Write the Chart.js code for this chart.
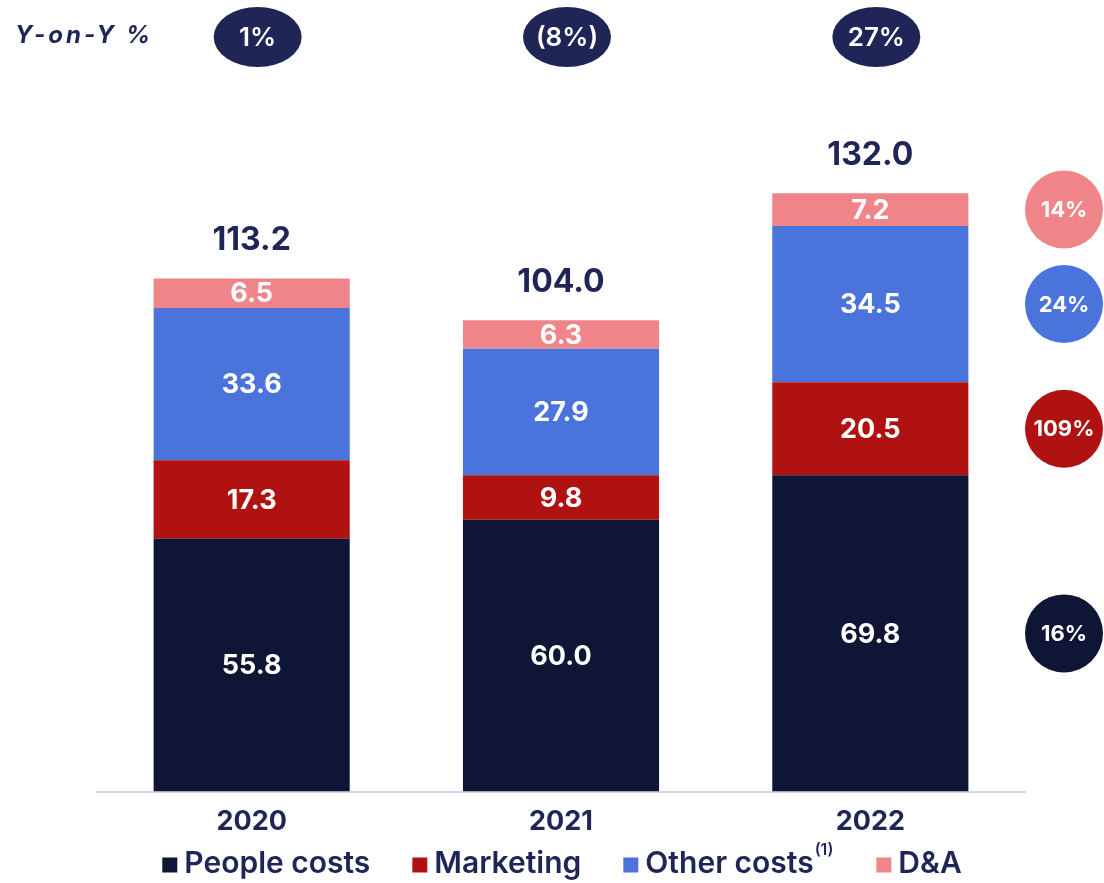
<!DOCTYPE html>
<html>
<head>
<meta charset="utf-8">
<script src="https://cdn.jsdelivr.net/npm/chart.js@4.4.0/dist/chart.umd.min.js"></script>
<style>
  html, body { margin: 0; padding: 0; background: #fff; }
  #wrap { width: 1104px; height: 883px; position: relative; }
</style>
</head>
<body>
<div id="wrap"><canvas id="grafico"></canvas></div>
<script>
// dados do grafico
const anos = ['2020', '2021', '2022'];
const peopleCosts = [55.8, 60.0, 69.8];
const marketing = [17.3, 9.8, 20.5];
const otherCosts = [33.6, 27.9, 34.5];
const dna = [6.5, 6.3, 7.2];
const totais = ['113.2', '104.0', '132.0'];
const yoyTotal = ['1%', '(8%)', '27%'];
const yoySerie = ['16%', '109%', '24%', '14%']; // people, marketing, other, D&A
const nomesSeries = ['People costs', 'Marketing', 'Other costs', 'D&A'];

const NAVY = '#1f2657';
const FONTE = 'Inter, "Open Sans", sans-serif';
const cores = ['#0e1535', '#b01212', '#4a74db', '#ef8588'];

const plugin_extras = {
    id: 'extras',
    afterDatasetsDraw(chart) {
        const ctx = chart.ctx;
        const meta0 = chart.getDatasetMeta(0);
        ctx.save();
        ctx.textAlign = 'center';
        ctx.textBaseline = 'middle';

        // valores dentro das barras
        chart.data.datasets.forEach((ds, i) => {
            const meta = chart.getDatasetMeta(i);
            meta.data.forEach((bar, j) => {
                const yMid = (bar.y + bar.base) / 2;
                ctx.fillStyle = '#ffffff';
                ctx.font = '700 27px ' + FONTE;
                ctx.fillText(ds.data[j].toFixed(1), bar.x, yMid + 1);
            });
        });

        // totais acima das barras
        const topMeta = chart.getDatasetMeta(3);
        topMeta.data.forEach((bar, j) => {
            ctx.fillStyle = NAVY;
            ctx.font = '700 32px ' + FONTE;
            ctx.fillText(totais[j], bar.x, bar.y - 38);
        });

        // Y-on-Y no topo
        ctx.textAlign = 'left';
        ctx.font = 'italic 700 24px ' + FONTE;
        ctx.fillStyle = NAVY;
        if (ctx.letterSpacing !== undefined) ctx.letterSpacing = '3px';
        ctx.fillText('Y-on-Y %', 15, 36);
        if (ctx.letterSpacing !== undefined) ctx.letterSpacing = '0px';
        ctx.textAlign = 'center';
        meta0.data.forEach((bar, j) => {
            const cx = bar.x + 6;
            ctx.beginPath();
            ctx.ellipse(cx, 37, 44, 30, 0, 0, Math.PI * 2);
            ctx.fillStyle = NAVY;
            ctx.fill();
            ctx.fillStyle = '#ffffff';
            ctx.font = '600 26px ' + FONTE;
            ctx.fillText(yoyTotal[j], cx, 38);
        });

        // circulos a direita (variacao por serie)
        chart.data.datasets.forEach((ds, i) => {
            const bar = chart.getDatasetMeta(i).data[2];
            const cy = (bar.y + bar.base) / 2;
            ctx.beginPath();
            ctx.arc(1064, cy, 39, 0, Math.PI * 2);
            ctx.fillStyle = cores[i];
            ctx.fill();
            ctx.fillStyle = '#ffffff';
            ctx.font = '700 22px ' + FONTE;
            ctx.fillText(yoySerie[i], 1064, cy + 1);
        });

        // legenda
        const legY = 864;
        const legFont = '600 30px ' + FONTE;
        const supFont = '600 16px ' + FONTE;
        ctx.font = legFont;
        const itens = nomesSeries.map((n, i) => {
            let w = ctx.measureText(n).width;
            let sup = 0;
            if (i === 2) {
                ctx.font = supFont;
                sup = ctx.measureText('(1)').width + 2;
                ctx.font = legFont;
            }
            return { n: n, w: w, sup: sup };
        });
        const gapItem = 42, sq = 15, gapSq = 7;
        let total = 0;
        itens.forEach((it, i) => { total += sq + gapSq + it.w + it.sup + (i < itens.length - 1 ? gapItem : 0); });
        let x = 562 - total / 2;
        ctx.textAlign = 'left';
        itens.forEach((it, i) => {
            ctx.fillStyle = cores[i];
            ctx.fillRect(x, legY - sq / 2 + 1, sq, sq);
            x += sq + gapSq;
            ctx.fillStyle = NAVY;
            ctx.font = legFont;
            ctx.fillText(it.n, x, legY);
            x += it.w;
            if (it.sup) {
                ctx.font = supFont;
                ctx.fillText('(1)', x + 1, legY - 14);
                x += it.sup;
            }
            x += gapItem;
        });
        ctx.restore();
    }
};

const config = {
    type: 'bar',
    data: {
        labels: anos,
        datasets: [
            { label: nomesSeries[0], data: peopleCosts, backgroundColor: cores[0] },
            { label: nomesSeries[1], data: marketing, backgroundColor: cores[1] },
            { label: nomesSeries[2], data: otherCosts, backgroundColor: cores[2] },
            { label: nomesSeries[3], data: dna, backgroundColor: cores[3] }
        ]
    },
    options: {
        responsive: false,
        animation: false,
        layout: {
            padding: { top: 157, left: 97, right: 79, bottom: 31 }
        },
        datasets: {
            bar: { barPercentage: 0.634, categoryPercentage: 1.0, borderWidth: 0 }
        },
        plugins: {
            legend: { display: false },
            tooltip: { enabled: false }
        },
        scales: {
            x: {
                stacked: true,
                grid: { display: false, drawTicks: false },
                border: { display: true, color: '#d4d4ee', width: 2 },
                ticks: {
                    color: NAVY,
                    padding: 14,
                    font: { family: FONTE, size: 27, weight: '700' }
                }
            },
            y: {
                stacked: true,
                display: false,
                min: 0,
                max: 140
            }
        }
    },
    plugins: [plugin_extras]
};

const cv = document.getElementById('grafico');
cv.width = 1104;
cv.height = 883;
new Chart(cv.getContext('2d'), config);
</script>
</body>
</html>
